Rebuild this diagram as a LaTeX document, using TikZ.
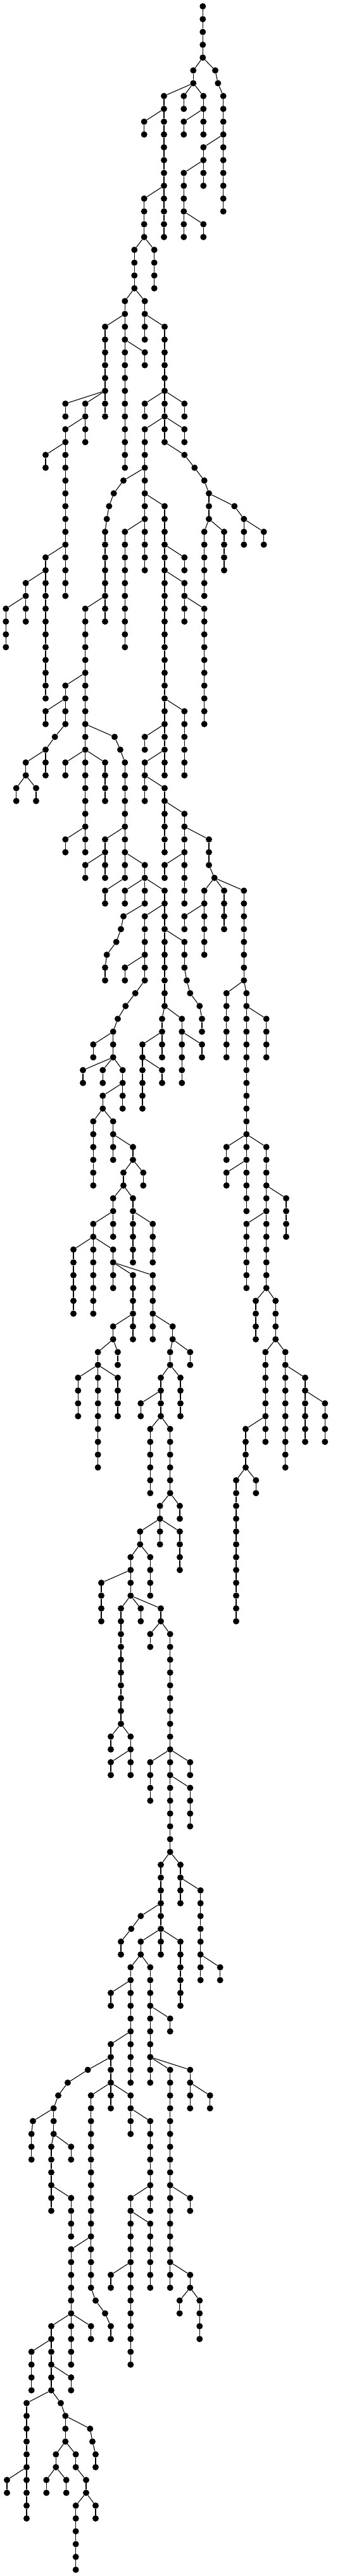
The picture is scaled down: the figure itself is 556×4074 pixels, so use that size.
\documentclass[tikz,border=0pt]{standalone}
\usepackage{xcolor}
\usepackage{tikz}

% a straight run of dots: name, parent, x (pt), first row, number of dots
\newcommand{\treechain}[5]{%
  \xdef\prevnode{#2}%
  \foreach \i in {1,...,#5}{%
    \pgfmathsetmacro\rowy{-10-20.27*(#4+\i-1)}%
    \node[dot] (#1-\i) at (#3pt,\rowy pt) {};
    \draw[link] (\prevnode) -- (#1-\i);
    \xdef\prevnode{#1-\i}%
  }%
}

\begin{document}
\begin{tikzpicture}
\tikzstyle{dot} = [circle, fill=black, minimum size=10pt, inner sep=0pt]
\tikzstyle{link} = [draw, line width=1.1pt]
\useasboundingbox (0,0) rectangle (556pt,-4074pt);

\node[dot] (root) at (320.3pt,-10pt) {};
\treechain{r}{root}{320.3}{1}{4}

% top part
\treechain{a}{r-4}{305.3}{5}{2}
\treechain{b1}{r-4}{340}{5}{1}
\treechain{b2}{b1-1}{344.3}{6}{1}
\treechain{b3}{b2-1}{352.7}{7}{10}
\treechain{c}{a-2}{259}{7}{12}
\treechain{d}{a-2}{290.3}{7}{2}
\treechain{e}{a-2}{321.3}{7}{4}
\treechain{f}{c-2}{227.7}{9}{2}
\treechain{g}{e-2}{290.3}{9}{2}
\treechain{h}{b3-4}{321.3}{11}{4}
\treechain{i}{h-2}{290.3}{13}{6}
\treechain{j}{i-4}{321.3}{17}{2}
\treechain{k}{c-8}{227.7}{15}{4}
\treechain{l}{k-4}{212.3}{19}{4}
\treechain{m}{k-4}{243.7}{19}{4}
\treechain{n}{l-4}{197.3}{23}{14}
\treechain{o}{l-4}{228.7}{23}{4}
\treechain{p}{n-2}{166}{25}{8}
\treechain{q}{n-4}{228.7}{27}{2}
\treechain{s}{o-2}{260}{25}{10}
\treechain{t}{p-6}{103.3}{31}{2}
\treechain{u}{p-6}{134.7}{31}{4}
\treechain{v}{u-2}{103.3}{33}{14}
\treechain{w}{s-6}{228.7}{31}{2}
\treechain{x}{s-6}{291.3}{31}{2}
\treechain{y}{s-8}{228.7}{33}{12}
\treechain{z}{s-8}{291.3}{33}{2}
\treechain{aa}{s-10}{291.3}{35}{1}
\treechain{ab}{aa-1}{307.3}{36}{1}
\treechain{ac}{ab-1}{322.7}{37}{1}
\treechain{ad}{ac-1}{330}{38}{1}
\treechain{ae}{ad-1}{330}{39}{2}
\treechain{af}{ad-1}{370.3}{39}{1}
\treechain{ag}{af-1}{385.3}{40}{3}
\treechain{ah}{ag-1}{416.7}{41}{2}
\treechain{ai}{ae-2}{322.7}{41}{6}
\treechain{aj}{ae-2}{354}{41}{4}
\treechain{ak}{v-2}{72}{35}{2}
\treechain{al}{y-4}{195}{37}{1}
\treechain{am}{al-1}{179.7}{38}{1}
\treechain{an}{am-1}{172.3}{39}{1}
\treechain{ao}{an-1}{168.7}{40}{1}
\treechain{ap}{ao-1}{166}{41}{8}
\treechain{aq}{y-6}{260}{39}{22}
\treechain{ar}{y-8}{197.3}{41}{10}
\treechain{as}{v-10}{72}{43}{12}
\treechain{at}{aq-4}{291.3}{43}{2}
\treechain{au}{aq-6}{291.3}{45}{4}
\treechain{av}{as-2}{40.7}{45}{4}
\treechain{aw}{av-2}{9.3}{47}{4}
\treechain{ax}{ap-6}{134.7}{47}{20}
\treechain{ay}{au-2}{322.7}{47}{10}
\treechain{az}{ax-6}{103.3}{53}{4}
\treechain{ba}{az-2}{72}{55}{2}
\treechain{bb}{az-4}{86.7}{57}{1}
\treechain{bc}{bb-1}{72}{58}{3}
\treechain{bd}{bc-1}{40.7}{59}{2}
\treechain{be}{bd-2}{25.7}{61}{2}
\treechain{bf}{bd-2}{57}{61}{2}
\treechain{bg}{aq-16}{291.3}{55}{6}
\treechain{bh}{ax-10}{181}{57}{1}
\treechain{bi}{bh-1}{190}{58}{1}
\treechain{bj}{bi-1}{197.3}{59}{10}
\treechain{bk}{ax-12}{103.3}{59}{2}
\treechain{bl}{ax-12}{166}{59}{4}
\treechain{bm}{aq-18}{228.7}{57}{2}
\treechain{bn}{aq-20}{228.7}{59}{4}
\treechain{bo}{bn-2}{260}{61}{6}
\treechain{bp}{bo-2}{291.3}{63}{8}
\treechain{bq}{bj-6}{166}{65}{4}
\treechain{br}{ax-18}{103.3}{65}{2}
\treechain{bs}{bp-2}{330}{65}{3}
\treechain{bt}{bs-3}{338.7}{68}{1}
\treechain{bu}{bq-2}{134.7}{67}{2}
\treechain{bv}{bj-8}{228.7}{67}{2}
\treechain{bw}{bp-4}{260}{67}{2}

% middle part
\treechain{bx}{bj-10}{166}{69}{2}
\treechain{by}{bv-2}{197.3}{69}{2}
\treechain{bz}{bv-2}{228.7}{69}{2}
\treechain{ca}{bv-2}{260}{69}{10}
\treechain{cb}{bt-1}{322.7}{69}{6}
\treechain{cc}{bt-1}{354}{69}{4}
\treechain{cd}{bt-1}{385.3}{69}{8}
\treechain{ce}{bz-2}{195}{71}{1}
\treechain{cf}{ce-1}{191}{72}{1}
\treechain{cg}{cf-1}{183.7}{73}{1}
\treechain{ch}{cg-1}{168.7}{74}{1}
\treechain{ci}{ch-1}{166}{75}{2}
\treechain{cj}{ca-2}{228.7}{71}{6}
\treechain{ck}{cb-2}{291.3}{71}{2}
\treechain{cl}{ca-4}{291.3}{73}{3}
\treechain{cm}{cl-3}{295}{76}{1}
\treechain{cn}{cm-1}{300.3}{77}{1}
\treechain{co}{cn-1}{315.3}{78}{1}
\treechain{cp}{co-1}{319}{79}{2}
\treechain{cq}{cj-4}{197.3}{75}{2}
\treechain{cr}{cj-6}{213.7}{77}{1}
\treechain{cs}{cr-1}{198.3}{78}{1}
\treechain{ct}{cs-1}{186}{79}{1}
\treechain{cu}{ct-1}{178.7}{80}{3}
\treechain{cv}{cd-8}{357.7}{77}{6}
\treechain{cw}{cd-8}{389.3}{77}{18}
\treechain{cx}{ca-10}{256}{79}{4}
\treechain{cy}{ca-10}{287.3}{79}{6}
\treechain{cz}{cw-2}{420.7}{79}{4}
\treechain{da}{cu-1}{147.3}{81}{2}
\treechain{db}{cx-2}{225}{81}{6}
\treechain{dc}{cy-2}{319}{81}{2}
\treechain{dd}{cu-3}{131}{83}{2}
\treechain{de}{cu-3}{162.3}{83}{2}
\treechain{df}{cu-3}{193.7}{83}{4}
\treechain{dg}{db-2}{256}{83}{2}
\treechain{dh}{df-2}{162.3}{85}{2}
\treechain{di}{dh-2}{147.3}{87}{6}
\treechain{dj}{dh-2}{178.7}{87}{4}
\treechain{dk}{dj-2}{210}{89}{2}
\treechain{dl}{dk-2}{195}{91}{2}
\treechain{dm}{dk-2}{226.3}{91}{2}
\treechain{dn}{dl-2}{178.7}{93}{4}
\treechain{do}{dl-2}{210}{93}{6}
\treechain{dp}{cw-12}{357.7}{89}{2}
\treechain{dq}{cw-12}{420.7}{89}{12}
\treechain{dr}{cw-14}{357.7}{91}{2}
\treechain{ds}{dq-4}{452}{93}{4}
\treechain{dt}{dq-6}{389.3}{95}{6}
\treechain{du}{dn-2}{147.3}{95}{2}
\treechain{dv}{do-2}{241.3}{95}{4}
\treechain{dw}{du-2}{116}{97}{6}
\treechain{dx}{du-2}{147.3}{97}{6}
\treechain{dy}{du-2}{178.7}{97}{4}
\treechain{dz}{dy-2}{210}{99}{6}
\treechain{ea}{dy-2}{241.3}{99}{6}
\treechain{eb}{dq-12}{404}{101}{4}
\treechain{ec}{dq-12}{435.3}{101}{4}
\treechain{ed}{dz-4}{178.7}{103}{2}
\treechain{ee}{ea-4}{272.7}{103}{2}
\treechain{ef}{ed-2}{154.7}{105}{2}
\treechain{eg}{ed-2}{186}{105}{2}
\treechain{eh}{ee-2}{268.7}{105}{2}
\treechain{ei}{ee-2}{300.3}{105}{2}
\treechain{ej}{ec-4}{419.3}{105}{8}
\treechain{ek}{ec-4}{450.7}{105}{10}
\treechain{el}{ef-2}{123.3}{107}{4}
\treechain{em}{ef-2}{154.7}{107}{8}
\treechain{en}{ef-2}{186}{107}{4}
\treechain{eo}{eh-2}{254}{107}{4}
\treechain{ep}{eh-2}{285}{107}{4}
\treechain{eq}{ek-2}{482}{107}{6}
\treechain{er}{eq-2}{513.3}{109}{4}
\treechain{es}{eo-2}{222.3}{109}{2}
\treechain{et}{eo-4}{237.3}{111}{6}
\treechain{eu}{eo-4}{268.7}{111}{6}
\treechain{ev}{ej-6}{388}{111}{4}
\treechain{ew}{ev-4}{373}{115}{12}
\treechain{ex}{ev-4}{404.3}{115}{2}
\treechain{ey}{eu-6}{252.7}{117}{2}
\treechain{ez}{eu-6}{284}{117}{2}
\treechain{fa}{ey-2}{221.3}{119}{2}
\treechain{fb}{ey-2}{252.7}{119}{2}
\treechain{fc}{ey-2}{284}{119}{4}
\treechain{fd}{fa-2}{206.3}{121}{4}
\treechain{fe}{fa-2}{237.3}{121}{4}
\treechain{ff}{fd-2}{160}{123}{4}
\treechain{fg}{fd-4}{191}{125}{10}
\treechain{fh}{fd-4}{222.3}{125}{2}
\treechain{fi}{fd-4}{254}{125}{2}
\treechain{fj}{fi-2}{237.3}{127}{2}
\treechain{fk}{fi-2}{268.7}{127}{18}

% lower part
\treechain{fl}{fg-10}{175}{135}{2}
\treechain{fm}{fg-10}{206.3}{135}{4}
\treechain{fn}{fm-2}{175}{137}{2}
\treechain{fo}{fk-10}{237.3}{137}{4}
\treechain{fp}{fk-10}{300.3}{137}{2}
\treechain{fq}{fk-12}{300.3}{139}{4}
\treechain{fr}{fk-18}{254}{145}{8}
\treechain{fs}{fk-18}{285}{145}{4}
\treechain{ft}{fs-2}{316.7}{147}{8}
\treechain{fu}{fr-4}{222.3}{149}{1}
\treechain{fv}{fu-1}{207.3}{150}{1}
\treechain{fw}{fv-1}{191}{151}{2}
\treechain{fx}{fr-6}{222.3}{151}{2}
\treechain{fy}{fr-6}{285}{151}{6}
\treechain{fz}{ft-6}{347.7}{153}{2}
\treechain{ga}{fx-2}{206.3}{153}{10}
\treechain{gb}{fx-2}{237.3}{153}{10}
\treechain{gc}{ga-2}{175}{155}{2}
\treechain{gd}{gb-4}{268.7}{157}{2}
\treechain{ge}{ga-6}{175}{159}{6}
\treechain{gf}{gb-8}{268.7}{161}{18}
\treechain{gg}{gb-8}{300.3}{161}{4}
\treechain{gh}{gg-2}{331.7}{163}{2}
\treechain{gi}{ge-2}{138.7}{161}{1}
\treechain{gj}{gi-1}{107}{162}{1}
\treechain{gk}{gj-1}{92}{163}{1}
\treechain{gl}{gk-1}{84.7}{164}{3}
\treechain{gm}{ge-4}{143.7}{163}{16}
\treechain{gn}{ge-4}{206.3}{163}{4}
\treechain{go}{gn-2}{237.3}{165}{8}
\treechain{gp}{gl-1}{52}{165}{1}
\treechain{gq}{gp-1}{49.7}{166}{3}
\treechain{gr}{gl-3}{81}{167}{6}
\treechain{gs}{gl-3}{112.3}{167}{2}
\treechain{gt}{gf-10}{300.3}{171}{2}
\treechain{gu}{go-6}{206.3}{171}{14}
\treechain{gv}{gr-4}{112.3}{171}{4}
\treechain{gw}{gu-2}{237.3}{173}{6}
\treechain{gx}{gm-12}{112.3}{175}{6}
\treechain{gy}{gx-6}{81}{181}{6}
\treechain{gz}{gx-6}{112.3}{181}{4}
\treechain{ha}{gx-6}{143.7}{181}{2}
\treechain{hb}{gu-6}{175}{177}{2}
\treechain{hc}{gf-16}{300.3}{177}{2}
\treechain{hd}{hc-2}{283.7}{179}{2}
\treechain{he}{hc-2}{315.3}{179}{4}
\treechain{hf}{gm-16}{151}{179}{1}
\treechain{hg}{hf-1}{166}{180}{1}
\treechain{hh}{hg-1}{175}{181}{2}
\treechain{hi}{gy-2}{49.7}{183}{4}
\treechain{hj}{gy-4}{112.3}{185}{2}
\treechain{hk}{gy-6}{42}{187}{10}
\treechain{hl}{gy-6}{96}{187}{1}
\treechain{hm}{hl-1}{103.3}{188}{3}
\treechain{hn}{hm-1}{142.3}{189}{1}
\treechain{ho}{hn-1}{146}{190}{1}
\treechain{hp}{ho-1}{151}{191}{2}
\treechain{hq}{hk-6}{11}{193}{2}
\treechain{hr}{hm-3}{88.3}{191}{2}
\treechain{hs}{hm-3}{119.7}{191}{2}
\treechain{ht}{hs-2}{136}{193}{2}
\treechain{hu}{hr-2}{73.3}{193}{2}
\treechain{hv}{hr-2}{104.7}{193}{2}
\treechain{hw}{ht-2}{119.7}{195}{6}
\treechain{hx}{ht-2}{151}{195}{2}
\end{tikzpicture}
\end{document}
